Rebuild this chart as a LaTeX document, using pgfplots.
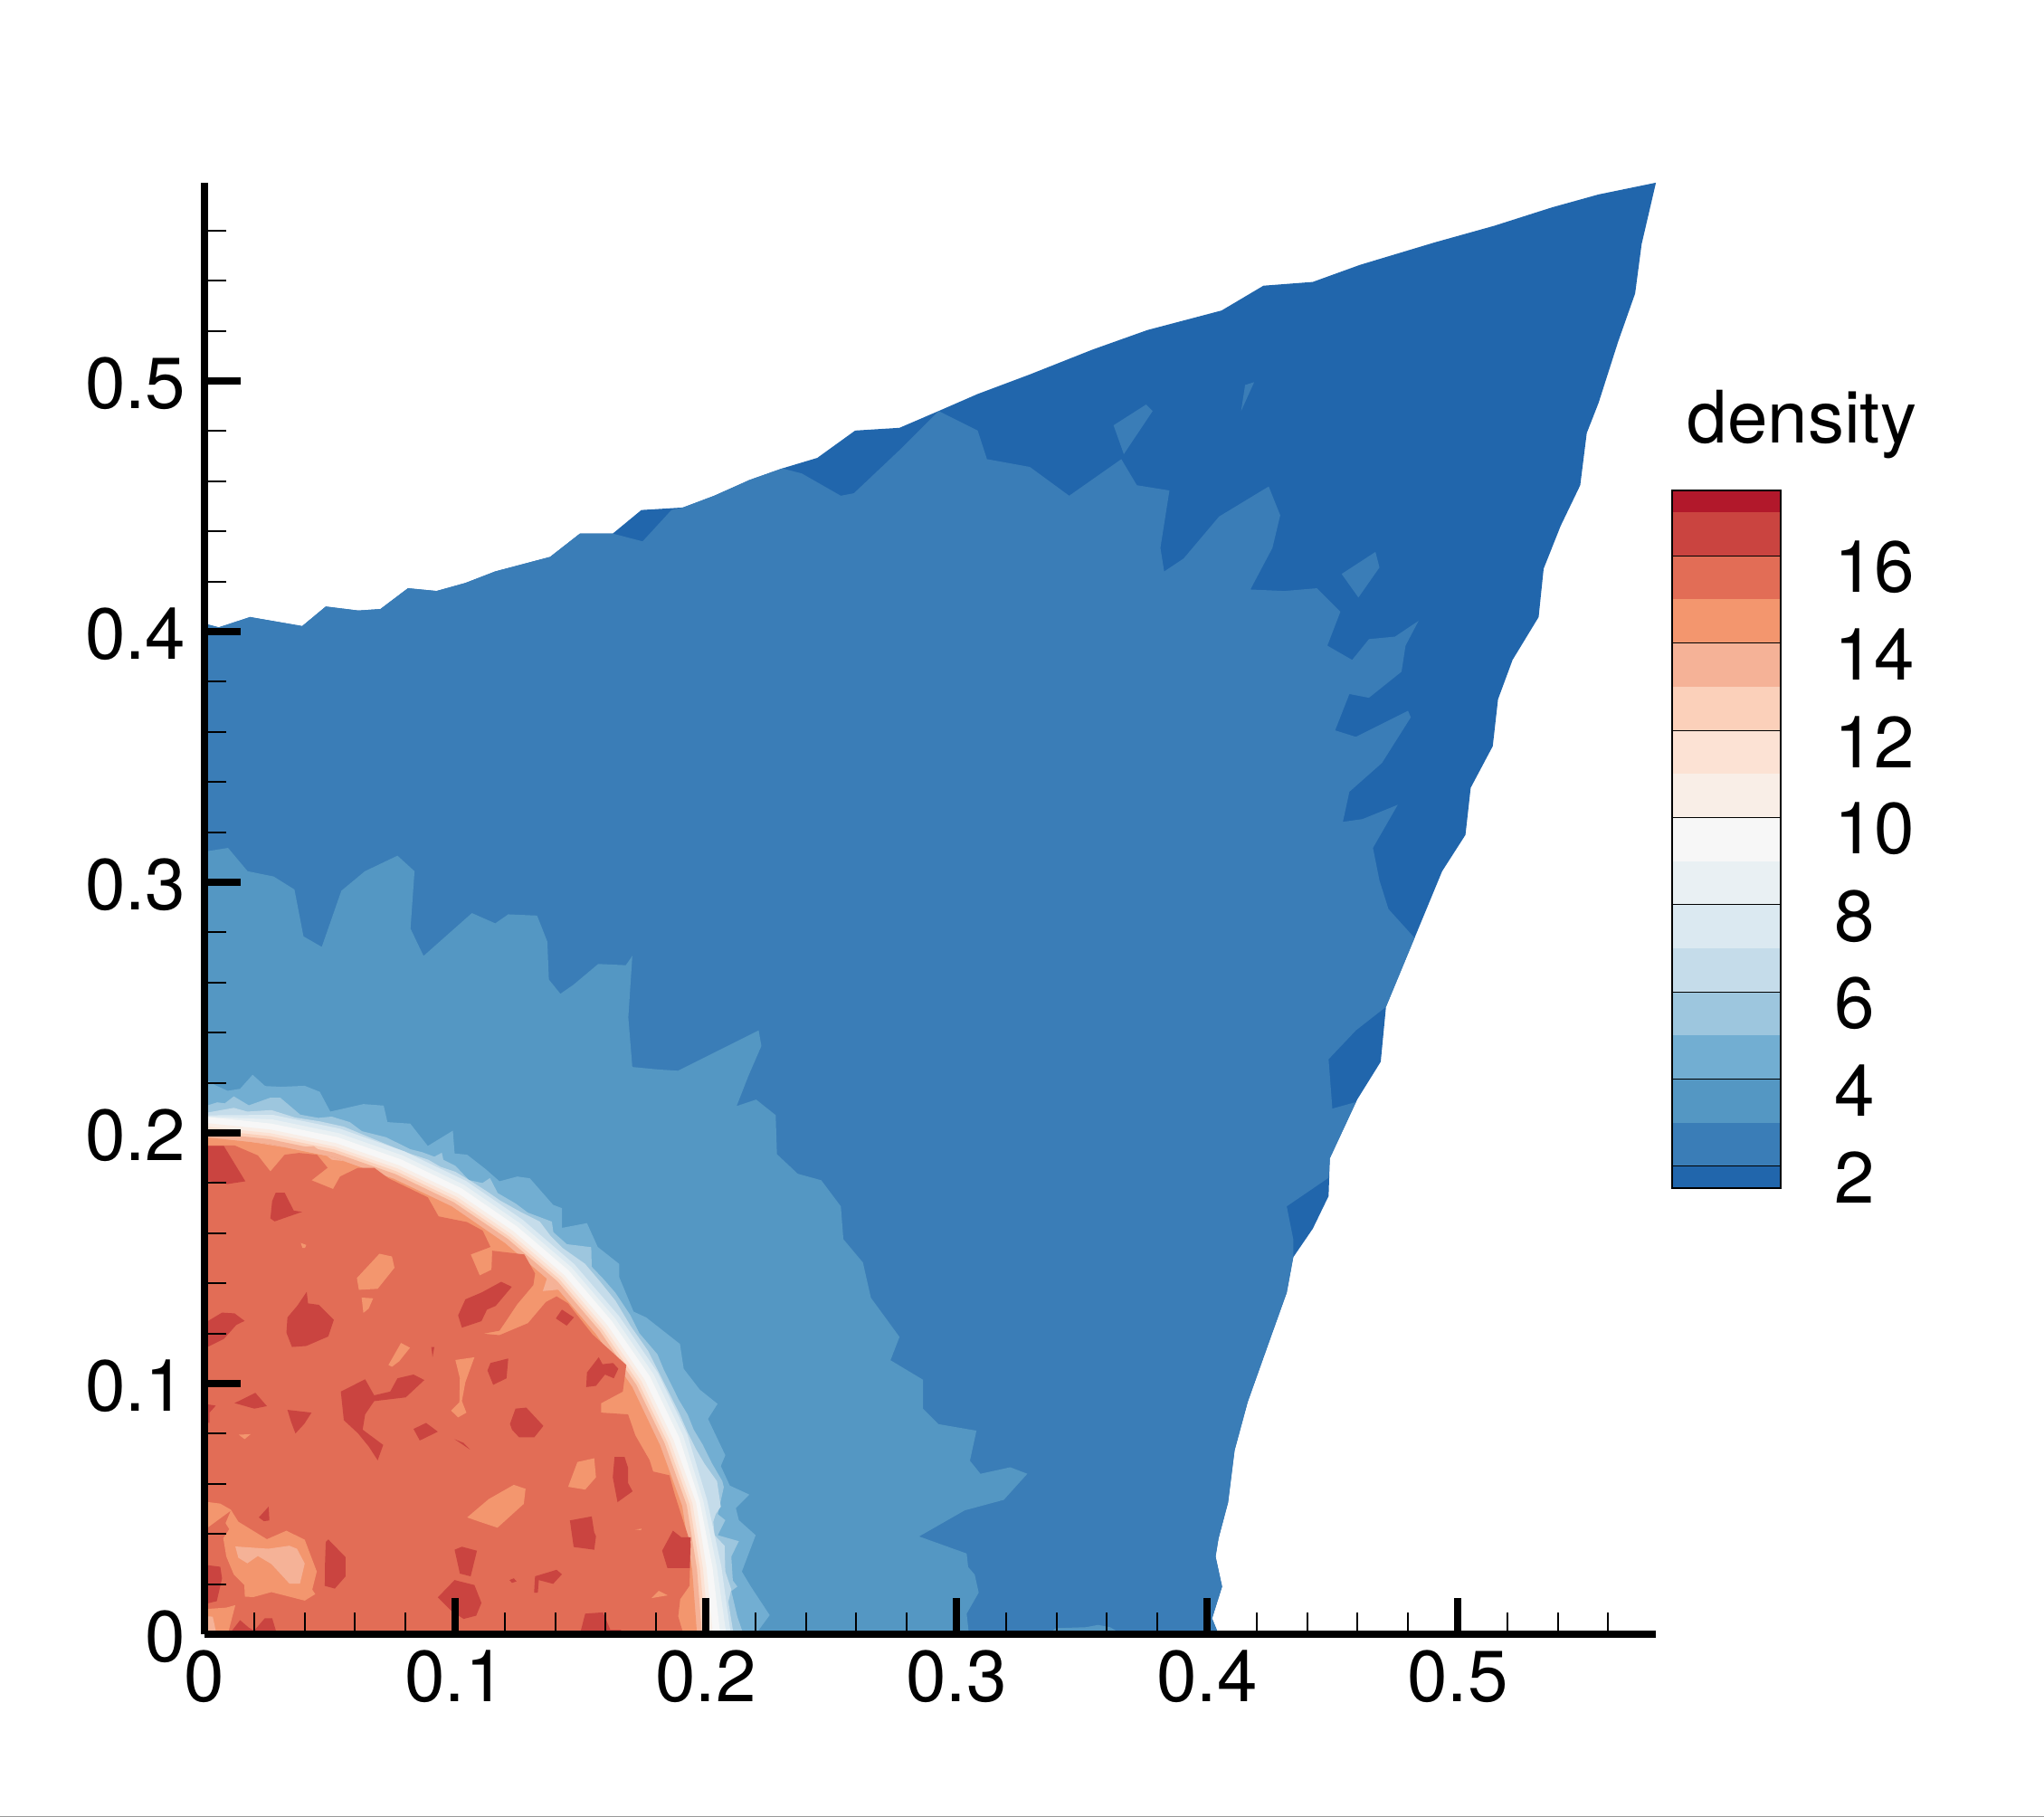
\documentclass[border=0pt]{standalone}
\usepackage{fontspec}
\setmainfont{TeX Gyre Heros}
\usepackage{pgfplots}
\pgfplotsset{compat=1.18}
\definecolor{c0}{HTML}{2166AC}
\definecolor{c2}{HTML}{3A7DB7}
\definecolor{c3}{HTML}{5497C3}
\definecolor{c4}{HTML}{72AED2}
\definecolor{c5}{HTML}{9DC6DE}
\definecolor{c6}{HTML}{C5DCEA}
\definecolor{c7}{HTML}{DBE9F1}
\definecolor{c8}{HTML}{E9F0F3}
\definecolor{c9}{HTML}{F7F7F7}
\definecolor{c10}{HTML}{F9EEE7}
\definecolor{c11}{HTML}{FCE2D4}
\definecolor{c12}{HTML}{FBD0BA}
\definecolor{c13}{HTML}{F5B297}
\definecolor{c14}{HTML}{F3966E}
\definecolor{c15}{HTML}{E26D56}
\definecolor{c16}{HTML}{CA4440}
\definecolor{c17}{HTML}{B2182B}
\newcommand{\lay}[2]{\addplot[fill=#1,draw=none,forget plot] coordinates {#2};}
\begin{document}
\begin{tikzpicture}
\path[use as bounding box] (0,0) rectangle (677.7pt,602.4pt);
\draw[color=black!40,line width=0.4pt] (0,0.2pt) -- (677.7pt,0.2pt);
\begin{axis}[
  at={(67.8pt,60.6pt)},anchor=south west,
  scale only axis,width=481.98pt,height=481.98pt,
  xmin=0,xmax=0.58,ymin=0,ymax=0.58,
  axis lines=left,axis line style={-,line width=2.4pt,black,shorten >=0.65pt},
  axis on top,no markers,
  xtick={0,0.1,0.2,0.3,0.4,0.5},ytick={0,0.1,0.2,0.3,0.4,0.5},
  minor xtick={0.02,0.04,0.06,0.08,0.12,0.14,0.16,0.18,0.22,0.24,0.26,0.28,0.32,0.34,0.36,0.38,0.42,0.44,0.46,0.48,0.52,0.54,0.56},
  minor ytick={0.02,0.04,0.06,0.08,0.12,0.14,0.16,0.18,0.22,0.24,0.26,0.28,0.32,0.34,0.36,0.38,0.42,0.44,0.46,0.48,0.52,0.54,0.56},
  tick align=inside,major tick length=12pt,minor tick length=7.2pt,
  major tick style={line width=2.4pt,black},minor tick style={line width=0.55pt,black},
  /pgf/number format/assume math mode=true,/pgf/number format/fixed,
  tick label style={font=\fontsize{24}{24}\selectfont},
  xticklabel style={anchor=north,inner sep=0pt,yshift=-5pt},
  yticklabel style={anchor=east,inner sep=0pt,xshift=-6pt,yshift=-0.8pt},
]
\lay{c0}{(0,.4032)(.0057,.4017)(.0182,.4058)(.0390,.4022)(.0484,.4100)(.0614,.4084)(.0702,.4090)(.0812,.4173)(.0926,.4162)(.1041,.4194)(.1160,.4240)(.1379,.4298)(.1498,.4391)(.1629,.4391)(.1743,.4485)(.1909,.4495)(.2034,.4542)(.2175,.4605)(.2305,.4651)(.2445,.4693)(.2596,.4802)(.2773,.4813)(.2929,.4880)(.3085,.4948)(.3293,.5026)(.3543,.5125)(.3762,.5203)(.4058,.5281)(.4225,.5380)(.4422,.5395)(.4610,.5463)(.4906,.5552)(.5146,.5619)(.5375,.5692)(.5562,.5744)(.5791,.5791)(.5734,.5546)(.5708,.5349)(.5640,.5156)(.5562,.4912)(.5515,.4792)(.5489,.4584)(.5411,.4422)(.5343,.4251)(.5323,.4058)(.5219,.3887)(.5161,.3730)(.5140,.3543)(.5052,.3377)(.5031,.3189)(.4938,.3044)(.4828,.2778)(.4714,.2503)(.4693,.2284)(.4599,.2133)(.4490,.1899)(.4485,.1748)(.4422,.1618)(.4344,.1504)(.4318,.1363)(.4251,.1176)(.4162,.0926)(.4110,.0734)(.4084,.0526)(.4046,.0383)(.4034,.0310)(.4060,.0190)(.4020,.0063)(.4046,0)(0,0)}
\lay{c2}{(0,.4032)(.0057,.4017)(.0182,.4058)(.0390,.4022)(.0484,.4100)(.0614,.4084)(.0702,.4090)(.0812,.4173)(.0926,.4162)(.1041,.4194)(.1160,.4240)(.1379,.4298)(.1498,.4391)(.1629,.4391)(.1748,.4360)(.1863,.4485)(.1909,.4495)(.2034,.4542)(.2175,.4605)(.2305,.4651)(.2383,.4631)(.2539,.4542)(.2591,.4552)(.2773,.4724)(.2929,.4880)(.3085,.4802)(.3122,.4688)(.3293,.4657)(.3450,.4542)(.3658,.4688)(.3720,.4584)(.3850,.4563)(.3814,.4334)(.3829,.4240)(.3907,.4292)(.4048,.4459)(.4246,.4579)(.4292,.4464)(.4261,.4334)(.4173,.4168)(.4308,.4162)(.4438,.4173)(.4532,.4079)(.4480,.3944)(.4579,.3887)(.4646,.3970)(.4750,.3980)(.4844,.4043)(.4792,.3944)(.4776,.3840)(.4646,.3736)(.4568,.3751)(.4511,.3606)(.4594,.3580)(.4802,.3684)(.4813,.3658)(.4698,.3476)(.4568,.3361)(.4542,.3241)(.4620,.3252)(.4761,.3309)(.4662,.3137)(.4688,.3007)(.4724,.2893)(.4828,.2778)(.4714,.2503)(.4594,.2409)(.4485,.2294)(.4500,.2097)(.4594,.2123)(.4490,.1899)(.4485,.1821)(.4318,.1707)(.4344,.1576)(.4344,.1504)(.4318,.1363)(.4251,.1176)(.4162,.0926)(.4110,.0734)(.4084,.0526)(.4046,.0383)(.4034,.0310)(.4060,.0190)(.4020,.0063)(.4046,0)(0,0)}
\lay{c2}{(.3627,.4823)(.3757,.4906)(.3783,.4880)(.3668,.4708)}
\lay{c2}{(.4136,.4880)(.4152,.4984)(.4188,.4995)}
\lay{c2}{(.4537,.4230)(.4672,.4318)(.4688,.4256)(.4604,.4136)}
\lay{c3}{(0,.3122)(.0094,.3137)(.0172,.3044)(.0276,.3023)(.0359,.2971)(.0395,.2784)(.0468,.2742)(.0546,.2966)(.0640,.3044)(.0770,.3106)(.0838,.3044)(.0822,.2815)(.0874,.2706)(.1067,.2877)(.1160,.2836)(.1212,.2872)(.1327,.2867)(.1368,.2763)(.1374,.2612)(.1420,.2555)(.1472,.2591)(.1571,.2674)(.1681,.2669)(.1707,.2706)(.1691,.2461)(.1707,.2263)(.1811,.2253)(.1889,.2248)(.2211,.2409)(.2222,.2347)(.2170,.2227)(.2123,.2107)(.2201,.2133)(.2279,.2071)(.2284,.1915)(.2367,.1837)(.2461,.1811)(.2539,.1707)(.2549,.1576)(.2627,.1483)(.2659,.1342)(.2773,.1186)(.2737,.1093)(.2867,.1015)(.2867,.0900)(.2929,.0838)(.3080,.0812)(.3054,.0692)(.3096,.0640)(.3215,.0666)(.3283,.0640)(.3189,.0536)(.3033,.0494)(.2851,.0390)(.3041,.0322)(.3047,.0268)(.3073,.0238)(.3089,.0166)(.3041,.0082)(.3050,0)(0,0)}
\lay{c3}{(.3366,0)(.3397,.0024)(.3517,.0028)(.3565,.0037)(.3613,.0028)(.3661,0)}
\lay{c4}{(0,.2217)(.0042,.2191)(.0092,.2168)(.0142,.2176)(.0192,.2232)(.0242,.2187)(.0306,.2184)(.0400,.2188)(.0460,.2164)(.0502,.2085)(.0634,.2115)(.0715,.2109)(.0730,.2043)(.0821,.2037)(.0891,.1948)(.0991,.2009)(.0998,.1918)(.1048,.1913)(.1120,.1857)(.1177,.1807)(.1248,.1826)(.1298,.1819)(.1391,.1713)(.1426,.1700)(.1426,.1621)(.1526,.1640)(.1569,.1545)(.1655,.1477)(.1655,.1424)(.1712,.1287)(.1762,.1264)(.1897,.1158)(.1912,.1059)(.1976,.0976)(.2047,.0919)(.2009,.0859)(.2078,.0714)(.2060,.0671)(.2096,.0593)(.2174,.0557)(.2120,.0503)(.2132,.0455)(.2199,.0395)(.2144,.0250)(.2180,.0190)(.2255,.0076)(.2199,0)(0,0)}
\lay{c5}{(0,.2106)(.0051,.2122)(.0081,.2118)(.0117,.2146)(.0177,.2110)(.0261,.2140)(.0303,.2140)(.0382,.2073)(.0454,.2060)(.0508,.2065)(.0580,.2043)(.0628,.2007)(.0724,.1983)(.0821,.1935)(.0869,.1923)(.0917,.1905)(.0947,.1921)(.0953,.1893)(.1001,.1869)(.1055,.1812)(.1109,.1800)(.1139,.1820)(.1170,.1760)(.1242,.1718)(.1290,.1682)(.1386,.1646)(.1392,.1604)(.1446,.1556)(.1543,.1544)(.1545,.1466)(.1591,.1418)(.1639,.1363)(.1699,.1273)(.1735,.1201)(.1807,.1117)(.1832,.1057)(.1892,.0936)(.1928,.0876)(.1952,.0816)(.1988,.0756)(.2024,.0683)(.2066,.0611)(.2072,.0587)(.2048,.0479)(.2078,.0455)(.2048,.0395)(.2132,.0371)(.2102,.0310)(.2108,.0214)(.2126,.0190)(.2102,.0172)(.2126,.0070)(.2150,0)(0,0)}
\lay{c6}{(0,.2079)(.0117,.2100)(.0171,.2085)(.0267,.2091)(.0363,.2061)(.0460,.2046)(.0556,.2025)(.0652,.1985)(.0749,.1945)(.0821,.1917)(.0893,.1893)(.0941,.1865)(.1001,.1845)(.1061,.1809)(.1128,.1766)(.1180,.1730)(.1266,.1682)(.1338,.1646)(.1380,.1590)(.1430,.1540)(.1518,.1478)(.1579,.1406)(.1640,.1330)(.1700,.1230)(.1770,.1130)(.1810,.1050)(.1860,.0950)(.1895,.0880)(.1930,.0800)(.1960,.0740)(.1995,.0680)(.2045,.0610)(.2060,.0509)(.2040,.0480)(.2030,.0449)(.2035,.0395)(.2075,.0353)(.2078,.0250)(.2102,.0178)(.2090,.0130)(.2111,0)(0,0)}
\lay{c7}{(.2100,0)(.2062,.0271)(.2005,.0537)(.1926,.0798)(.1808,.1044)(.1654,.1269)(.1476,.1476)(.1269,.1654)(.1044,.1808)(.0798,.1926)(.0540,.2017)(.0273,.2072)(0,.2070)(0,0)}
\lay{c8}{(.2082,0)(.2044,.0269)(.1990,.0533)(.1910,.0791)(.1793,.1035)(.1640,.1258)(.1464,.1464)(.1258,.1640)(.1035,.1793)(.0791,.1910)(.0536,.1999)(.0270,.2054)(0,.2065)(0,0)}
\lay{c9}{(.2058,0)(.2027,.0267)(.1976,.0530)(.1894,.0785)(.1778,.1027)(.1626,.1248)(.1452,.1452)(.1248,.1626)(.1027,.1778)(.0785,.1894)(.0531,.1983)(.0268,.2037)(0,.2065)(0,0)}
\lay{c10}{(.2028,0)(.2003,.0264)(.1961,.0525)(.1871,.0775)(.1756,.1015)(.1607,.1233)(.1434,.1434)(.1233,.1607)(.1015,.1756)(.0775,.1871)(.0525,.1959)(.0265,.2013)(0,.2040)(0,0)}
\lay{c11}{(.2012,0)(.1989,.0262)(.1947,.0521)(.1858,.0770)(.1744,.1008)(.1596,.1224)(.1425,.1425)(.1224,.1596)(.1008,.1744)(.0770,.1858)(.0521,.1945)(.0263,.1999)(0,.2026)(0,0)}
\lay{c12}{(.2000,0)(.1977,.0261)(.1936,.0518)(.1847,.0765)(.1733,.1001)(.1586,.1217)(.1416,.1416)(.1217,.1586)(.1001,.1733)(.0765,.1847)(.0518,.1934)(.0261,.1987)(0,.2014)(0,0)}
\lay{c13}{(.1985,0)(.1965,.0259)(.1924,.0515)(.1836,.0761)(.1723,.0995)(.1577,.1210)(.1408,.1408)(.1210,.1577)(.0995,.1723)(.0761,.1836)(.0515,.1922)(.0259,.1975)(0,.2002)(0,0)}
\lay{c14}{(.1965,0)(.1946,.0256)(.1906,.0511)(.1818,.0753)(.1707,.0986)(.1561,.1198)(.1394,.1394)(.1198,.1561)(.0986,.1707)(.0753,.1818)(.0510,.1904)(.0256,.1956)(0,.1983)(0,0)}
\lay{c13}{(.0150,.1970)(.0327,.1941)(.0436,.1947)(.0508,.1893)(.0616,.1881)(.0753,.1818)(.0510,.1904)(.0256,.1956)}
\lay{c13}{(.1350,.1369)(.1368,.1424)(.1416,.1375)}
\lay{c15}{(0,.1950)(.0120,.1950)(.0213,.1910)(.0263,.1846)(.0320,.1913)(.0377,.1920)(.0449,.1913)(.0491,.1861)(.0427,.1811)(.0513,.1776)(.0541,.1826)(.0613,.1861)(.0677,.1861)(.0734,.1819)(.0891,.1743)(.0934,.1667)(.1048,.1644)(.1110,.1610)(.1141,.1545)(.1062,.1515)(.1098,.1431)(.1145,.1454)(.1148,.1530)(.1276,.1515)(.1319,.1439)(.1312,.1393)(.1248,.1317)(.1177,.1211)(.1112,.1199)(.1177,.1193)(.1291,.1241)(.1362,.1325)(.1405,.1348)(.1450,.1320)(.1548,.1196)(.1683,.1074)(.1669,.0968)(.1583,.0922)(.1583,.0884)(.1690,.0877)(.1719,.0793)(.1776,.0694)(.1790,.0649)(.1855,.0634)(.1876,.0558)(.1915,.0436)(.1940,.0360)(.1935,.0193)(.1898,.0140)(.1890,.0071)(.1911,0)(0,0)}
\lay{c14}{(0,.0529)(.0063,.0521)(.0105,.0497)(.0135,.0449)(.0249,.0379)(.0327,.0413)(.0400,.0377)(.0448,.0250)(.0430,.0178)(.0442,.0160)(.0400,.0134)(.0267,.0168)(.0195,.0148)(.0161,.0150)(.0159,.0196)(.0117,.0238)(.0087,.0310)(.0075,.0383)(.0099,.0419)(.0084,.0443)(.0105,.0493)(0,.0416)}
\lay{c13}{(.0123,.0350)(.0255,.0341)(.0339,.0353)(.0369,.0341)(.0400,.0282)(.0381,.0202)(.0339,.0202)(.0267,.0280)(.0213,.0312)(.0171,.0283)(.0135,.0305)}
\lay{c14}{(0,.0100)(.0087,.0106)(.0123,.0116)(.0093,0)(0,0)}
\lay{c13}{(0,.0072)(.0033,.0070)(.0048,0)(0,0)}
\lay{c14}{(.0608,.1421)(.0698,.1518)(.0748,.1507)(.0758,.1462)(.0691,.1378)(.0616,.1374)}
\lay{c14}{(.0627,.1343)(.0673,.1340)(.0655,.1299)(.0634,.1282)}
\lay{c14}{(.0384,.1561)(.0406,.1553)(.0401,.1541)(.0391,.1541)}
\lay{c14}{(.0734,.1074)(.0784,.1162)(.0820,.1143)(.0777,.1089)(.0748,.1067)}
\lay{c14}{(.1001,.1094)(.1077,.1105)(.1041,.1006)(.1027,.0930)(.1045,.0884)(.1012,.0865)(.0984,.0892)(.1017,.0925)(.1019,.1021)}
\lay{c14}{(.0137,.0796)(.0184,.0798)(.0160,.0778)}
\lay{c14}{(.1451,.0588)(.1488,.0687)(.1555,.0702)(.1562,.0626)(.1519,.0577)}
\lay{c14}{(.1048,.0466)(.1134,.0539)(.1234,.0596)(.1281,.0580)(.1274,.0520)(.1169,.0425)(.1091,.0451)}
\lay{c14}{(.1719,.0418)(.1744,.0421)(.1741,.0415)}
\lay{c14}{(.1783,.0144)(.1812,.0173)(.1848,.0155)}
\lay{c16}{(0,.1948)(.0077,.1948)(.0163,.1807)(.0092,.1796)(0,.1811)}
\lay{c16}{(.0284,.1761)(.0320,.1761)(.0356,.1690)(.0389,.1685)(.0280,.1647)(.0263,.1659)(.0270,.1728)}
\lay{c16}{(.0370,.1310)(.0408,.1366)(.0413,.1320)(.0456,.1314)(.0516,.1254)(.0494,.1188)(.0406,.1150)(.0349,.1146)(.0327,.1203)(.0331,.1264)}
\lay{c16}{(0,.1241)(.0070,.1283)(.0120,.1280)(.0160,.1250)(.0127,.1234)(.0077,.1178)(0,.1140)}
\lay{c16}{(.1012,.1272)(.1041,.1336)(.1105,.1363)(.1184,.1406)(.1226,.1386)(.1162,.1310)(.1127,.1295)(.1105,.1249)(.1027,.1223)}
\lay{c16}{(.1402,.1260)(.1426,.1295)(.1474,.1264)(.1445,.1231)}
\lay{c16}{(.1141,.1082)(.1212,.1100)(.1205,.1021)(.1152,.0995)(.1129,.1052)}
\lay{c16}{(.1526,.1044)(.1573,.1105)(.1588,.1077)(.1630,.1082)(.1651,.1059)(.1633,.1021)(.1598,.1036)(.1562,.0991)(.1523,.0986)}
\lay{c16}{(.0544,.0968)(.0641,.1017)(.0677,.0953)(.0741,.0968)(.0770,.1021)(.0834,.1036)(.0877,.1014)(.0803,.0945)(.0677,.0930)(.0641,.0877)(.0631,.0816)(.0713,.0755)(.0691,.0694)(.0656,.0748)(.0613,.0801)(.0556,.0854)}
\lay{c16}{(.0120,.0922)(.0203,.0963)(.0249,.0910)(.0199,.0900)}
\lay{c16}{(0,.0919)(.0045,.0912)(.0020,.0884)(.0020,.0843)(0,.0843)}
\lay{c16}{(.0331,.0895)(.0427,.0884)(.0398,.0839)(.0363,.0801)(.0346,.0846)}
\lay{c16}{(.0834,.0819)(.0884,.0843)(.0931,.0808)(.0859,.0773)}
\lay{c16}{(.1219,.0839)(.1241,.0900)(.1284,.0904)(.1352,.0831)(.1316,.0786)(.1255,.0786)(.1227,.0816)}
\lay{c16}{(.0998,.0778)(.1059,.0737)(.1034,.0763)}
\lay{c16}{(.0905,.1146)(.0917,.1146)(.0910,.1105)}
\lay{c16}{(.1636,.0707)(.1676,.0707)(.1690,.0664)(.1690,.0603)(.1708,.0570)(.1648,.0527)(.1629,.0626)}
\lay{c16}{(.1458,.0454)(.1545,.0470)(.1555,.0406)(.1562,.0391)(.1555,.0337)(.1473,.0348)}
\lay{c16}{(.1826,.0333)(.1869,.0413)(.1902,.0387)(.1940,.0387)(.1936,.0264)(.1847,.0264)}
\lay{c16}{(.0217,.0466)(.0256,.0509)(.0259,.0454)(.0237,.0451)}
\lay{c16}{(.0484,.0368)(.0494,.0378)(.0563,.0307)(.0563,.0231)(.0520,.0182)(.0480,.0193)(.0481,.0284)}
\lay{c16}{(0,.0277)(.0063,.0269)(.0070,.0223)(.0049,.0132)(0,.0120)}
\lay{c16}{(.0998,.0337)(.1027,.0349)(.1087,.0333)(.1062,.0231)(.1019,.0242)}
\lay{c16}{(.0931,.0147)(.0998,.0216)(.1077,.0196)(.1105,.0125)(.1084,.0074)(.1034,.0061)(.0984,.0094)}
\lay{c16}{(.1319,.0231)(.1405,.0257)(.1426,.0239)(.1391,.0201)(.1334,.0216)(.1330,.0166)(.1315,.0166)}
\lay{c16}{(.1217,.0216)(.1234,.0223)(.1245,.0211)(.1227,.0205)}
\lay{c16}{(.1498,0)(.1519,.0082)(.1590,.0087)(.1619,.0018)(.1662,.0018)(.1662,0)}
\lay{c16}{(.0099,0)(.0142,.0056)(.0177,.0026)(.0198,.0014)(.0241,.0064)(.0270,.0064)(.0289,0)}
\end{axis}
\begin{axis}[
  at={(554.4pt,208.5pt)},anchor=south west,
  scale only axis,width=36pt,height=231.3pt,
  xmin=0,xmax=1,ymin=1.5,ymax=17.5,
  axis on top,no markers,axis line style={line width=0.45pt,black},
  xtick=\empty,ytick={2,4,6,8,10,12,14,16},major tick length=0pt,
  yticklabel pos=right,
  /pgf/number format/assume math mode=true,
  tick label style={font=\fontsize{24}{24}\selectfont},
  yticklabel style={anchor=west,inner sep=0pt,xshift=17.5pt,yshift=-3.8pt},
]
\lay{c0}{(0,1.5)(1,1.5)(1,2)(0,2)}
\lay{c2}{(0,2)(1,2)(1,3)(0,3)}
\lay{c3}{(0,3)(1,3)(1,4)(0,4)}
\lay{c4}{(0,4)(1,4)(1,5)(0,5)}
\lay{c5}{(0,5)(1,5)(1,6)(0,6)}
\lay{c6}{(0,6)(1,6)(1,7)(0,7)}
\lay{c7}{(0,7)(1,7)(1,8)(0,8)}
\lay{c8}{(0,8)(1,8)(1,9)(0,9)}
\lay{c9}{(0,9)(1,9)(1,10)(0,10)}
\lay{c10}{(0,10)(1,10)(1,11)(0,11)}
\lay{c11}{(0,11)(1,11)(1,12)(0,12)}
\lay{c12}{(0,12)(1,12)(1,13)(0,13)}
\lay{c13}{(0,13)(1,13)(1,14)(0,14)}
\lay{c14}{(0,14)(1,14)(1,15)(0,15)}
\lay{c15}{(0,15)(1,15)(1,16)(0,16)}
\lay{c16}{(0,16)(1,16)(1,17)(0,17)}
\lay{c17}{(0,17)(1,17)(1,17.5)(0,17.5)}
\addplot[black,line width=0.3pt,forget plot] coordinates {(0,2)(1,2)};
\addplot[black,line width=0.3pt,forget plot] coordinates {(0,4)(1,4)};
\addplot[black,line width=0.3pt,forget plot] coordinates {(0,6)(1,6)};
\addplot[black,line width=0.3pt,forget plot] coordinates {(0,8)(1,8)};
\addplot[black,line width=0.3pt,forget plot] coordinates {(0,10)(1,10)};
\addplot[black,line width=0.3pt,forget plot] coordinates {(0,12)(1,12)};
\addplot[black,line width=0.3pt,forget plot] coordinates {(0,14)(1,14)};
\addplot[black,line width=0.3pt,forget plot] coordinates {(0,16)(1,16)};
\end{axis}
\node[anchor=base west,inner sep=0pt,font=\fontsize{24}{24}\selectfont] at (559.2pt,455.4pt) {density};
\end{tikzpicture}
\end{document}
